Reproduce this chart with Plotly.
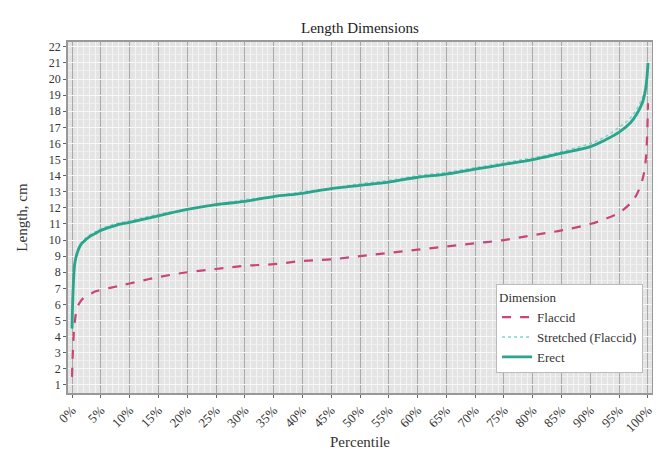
import plotly.graph_objects as go

# Percentile positions (%)
pct = [0, 0.2, 0.5, 1, 1.5, 2, 3, 4, 5, 7.5, 10, 15, 20, 25, 30, 35, 40, 45, 50,
       55, 60, 65, 70, 75, 80, 85, 90, 92.5, 95, 97, 98, 99, 99.5, 99.8, 100]

flaccid = [1.5, 3.5, 5.0, 5.9, 6.2, 6.4, 6.6, 6.8, 6.9, 7.1, 7.3, 7.7, 8.0, 8.2, 8.4, 8.5, 8.7, 8.8, 9.0,
           9.2, 9.4, 9.6, 9.8, 10.0, 10.3, 10.6, 11.0, 11.3, 11.7, 12.3, 12.8, 13.7, 14.6, 16.0, 18.5]

stretched = [4.6, 7.0, 8.6, 9.4, 9.8, 10.0, 10.3, 10.5, 10.7, 11.0, 11.2, 11.6, 11.9, 12.2, 12.5, 12.7, 13.0, 13.2, 13.5,
             13.7, 14.0, 14.2, 14.5, 14.8, 15.1, 15.5, 16.0, 16.4, 17.0, 17.6, 18.1, 18.8, 19.4, 20.2, 21.0]

erect = [4.5, 7.0, 8.6, 9.3, 9.7, 9.9, 10.2, 10.4, 10.6, 10.9, 11.1, 11.5, 11.9, 12.2, 12.4, 12.7, 12.9, 13.2, 13.4,
         13.6, 13.9, 14.1, 14.4, 14.7, 15.0, 15.4, 15.8, 16.2, 16.7, 17.3, 17.8, 18.5, 19.2, 20.0, 21.0]

x_ticks = list(range(0, 101, 5))
x_labels = [f"{v}%" for v in x_ticks]
y_ticks = list(range(1, 23))

font_family = "Liberation Serif, Times New Roman, serif"

W, H = 653, 447  # page body has an 8px margin

fig = go.Figure()
fig.add_trace(go.Scatter(x=pct, y=flaccid, name="Flaccid", mode="lines",
                         line=dict(color="#c8457a", width=2.2, dash="dash", shape="spline")))
fig.add_trace(go.Scatter(x=pct, y=stretched, name="Stretched (Flaccid)", mode="lines",
                         line=dict(color="#7fd6cc", width=1.6, dash="dot", shape="spline")))
fig.add_trace(go.Scatter(x=pct, y=erect, name="Erect", mode="lines",
                         line=dict(color="#2aa58c", width=2.8, shape="spline")))

fig.update_layout(
    width=W, height=H,
    margin=dict(l=60, r=9, t=34, b=62),
    paper_bgcolor="white",
    plot_bgcolor="#e4e4e4",
    font=dict(family=font_family, size=12, color="#333333"),
    title=dict(text="Length Dimensions", x=0.5, xref="paper", xanchor="center",
               y=1 - 20 / H, yanchor="middle",
               font=dict(family=font_family, size=15, color="#222222")),
    showlegend=True,
    legend=dict(title=dict(text="Dimension", font=dict(size=13)),
                x=0.733, y=0.31, xanchor="left", yanchor="top",
                bgcolor="white", bordercolor="#bbbbbb", borderwidth=1,
                font=dict(size=13), tracegroupgap=0, itemwidth=30),
    xaxis=dict(range=[-0.7, 100.7], tickmode="array", tickvals=x_ticks, ticktext=x_labels,
               tickangle=-45, showgrid=True, gridcolor="#a9a9a9", gridwidth=1.2,
               minor=dict(dtick=1, showgrid=True, gridcolor="#f4f4f4", gridwidth=1),
               ticks="outside", ticklen=3, tickcolor="#666666",
               showline=True, linecolor="#999999", linewidth=1.5, mirror=True,
               zeroline=False, automargin=False,
               tickfont=dict(size=13, color="#333333"),
               title=dict(text="Percentile", font=dict(size=15), standoff=2)),
    yaxis=dict(range=[0.5, 22.3], tickmode="array", tickvals=y_ticks,
               showgrid=True, gridcolor="#f8f8f8", gridwidth=1,
               minor=dict(dtick=0.5, showgrid=True, gridcolor="#f0f0f0", gridwidth=1),
               ticks="outside", ticklen=3, tickcolor="#666666",
               showline=True, linecolor="#999999", linewidth=1.5, mirror=True,
               zeroline=False, automargin=False, tickfont=dict(size=12, color="#333333"),
               title=dict(text="Length, cm", font=dict(size=15), standoff=18)),
)

fig.write_html("out.html")
